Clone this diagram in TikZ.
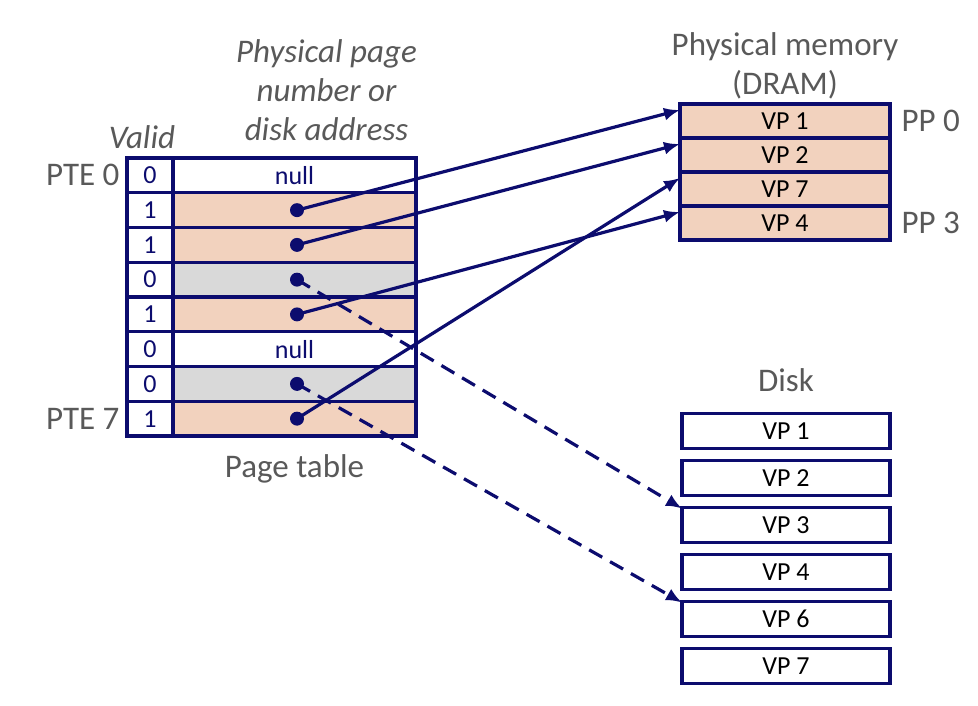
\documentclass[tikz,border=0pt]{standalone}
\usepackage{fontspec}
\setmainfont{Carlito}
\usetikzlibrary{positioning,arrows.meta}
\definecolor{navy}{RGB}{12,12,110}
\definecolor{peach}{RGB}{242,210,190}
\definecolor{lgray}{RGB}{217,217,217}
\definecolor{txtgray}{RGB}{89,89,89}

\begin{document}
\begin{tikzpicture}[x=1pt,y=1pt,>={Latex[length=16pt,width=13pt]},
  cell/.style={draw=navy,line width=3.4pt,outer sep=0pt,inner sep=0pt,
    minimum height=34.75pt,text=navy,font=\fontsize{26}{29}\selectfont},
  vcell/.style={cell,minimum width=46pt},
  acell/.style={cell,minimum width=243pt},
  page/.style={draw=navy,line width=3.4pt,outer sep=0pt,inner sep=0pt,
    minimum width=210pt,minimum height=34pt,font=\fontsize{26}{29}\selectfont},
  dpage/.style={page,minimum width=208pt,minimum height=35pt},
  lbl/.style={text=txtgray,font=\fontsize{33}{39}\selectfont,align=center},
  ptr/.style={->,draw=navy,line width=3.2pt},
  pdot/.style={circle,fill=navy,inner sep=0pt,minimum size=14pt}]
\useasboundingbox (0,0) rectangle (978,-706);
% page table
\node[vcell] (v0) at (150,-175.4) {0};
\node[acell,right=0pt of v0] (a0) {null};
\foreach \v/\f/\t [count=\i, remember=\i as \j (initially 0)] in
  {1/peach/,1/peach/,0/lgray/,1/peach/,0/white/null,0/lgray/,1/peach/}{
  \node[vcell,below=0pt of v\j] (v\i) {\v};
  \node[acell,fill=\f,right=0pt of v\i] (a\i) {\t};
}
\foreach \i in {1,2,3,4,6,7}
  \node[pdot] (p\i) at ([xshift=2.5pt]a\i.center) {};
\node[lbl,font=\fontsize{33}{39}\selectfont\itshape,above=14pt of a0,xshift=32pt]
  (addr) {Physical page\\number or\\disk address};
\node[lbl,font=\fontsize{33}{39}\selectfont\itshape,above=6pt of v0,xshift=-8pt]
  (valid) {Valid};
\node[lbl,left=4pt of v0] (pte0) {PTE 0};
\node[lbl,left=4pt of v7] (pte7) {PTE 7};
\node[lbl,below=15pt of a7] (ptab) {Page table};
% physical memory
\node[page,fill=peach] (m0) at (785,-121) {VP 1};
\foreach \t [count=\i, remember=\i as \j (initially 0)] in {VP 2,VP 7,VP 4}
  \node[page,fill=peach,below=0pt of m\j] (m\i) {\t};
\node[lbl,above=1pt of m0] (dram) {Physical memory\\(DRAM)};
\node[lbl,right=8pt of m0] (pp0) {PP 0};
\node[lbl,right=8pt of m3] (pp3) {PP 3};
% disk
\node[dpage] (d1) at (786,-431) {VP 1};
\foreach \n [remember=\n as \m (initially 1)] in {2,3,4,6,7}
  \node[dpage,below=12pt of d\m] (d\n) {VP \n};
\node[lbl,above=18pt of d1] (disk) {Disk};
% pointers
\draw[ptr] (p1.center) -- (m0.174);
\draw[ptr] (p2.center) -- (m1.174);
\draw[ptr] (p4.center) -- (m3.174);
\draw[ptr] (p7.center) -- (m2.174);
\draw[ptr,dash pattern=on 15pt off 9pt] (p3.center) -- (d3.171);
\draw[ptr,dash pattern=on 15pt off 9pt] (p6.center) -- (d6.171);
\end{tikzpicture}
\end{document}
